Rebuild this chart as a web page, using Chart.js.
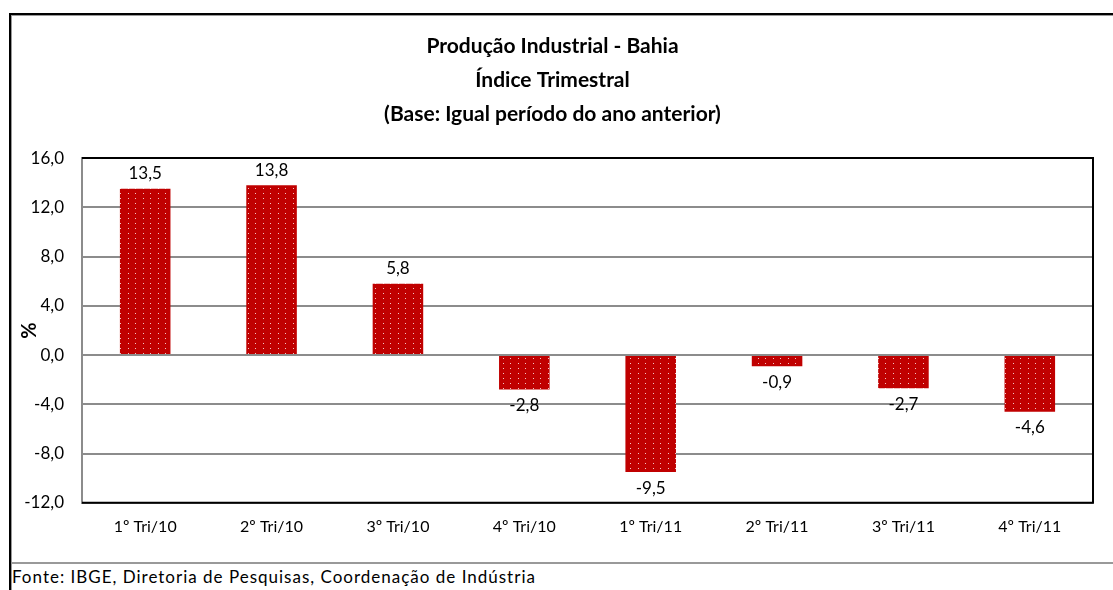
<!DOCTYPE html>
<html>
<head>
<meta charset="utf-8">
<script src="https://cdn.jsdelivr.net/npm/chart.js@4.4.0/dist/chart.umd.min.js"></script>
<style>
  body { margin: 0; background: #fff; width: 1113px; height: 590px; overflow: hidden; position: relative; font-family: Lato, "Open Sans", sans-serif; }
  #frame { position: absolute; left: 9px; top: 13px; width: 1120px; height: 600px; border-top: 2px solid #000; border-left: 2px solid #000; box-shadow: inset 1px 1px 0 #999; }
  #sep { position: absolute; left: 11px; top: 562px; width: 1102px; height: 2px; background: #999; }
  #fonte { position: absolute; left: 12px; top: 566px; font-size: 17px; letter-spacing: 1px; color: #000; white-space: nowrap; }
  #chart { position: absolute; left: 12px; top: 16px; }
</style>
</head>
<body>
<div id="frame"></div>
<div id="sep"></div>
<div id="fonte">Fonte: IBGE, Diretoria de Pesquisas, Coordenação de Indústria</div>
<canvas id="chart" width="1098" height="526"></canvas>
<script>
// dados
const trimestres = ['1º Tri/10', '2º Tri/10', '3º Tri/10', '4º Tri/10', '1º Tri/11', '2º Tri/11', '3º Tri/11', '4º Tri/11'];
const indice = [13.5, 13.8, 5.8, -2.8, -9.5, -0.9, -2.7, -4.6];
const titulo = ['Produção Industrial - Bahia', 'Índice Trimestral', '(Base: Igual período do ano anterior)'];

const fmt = v => v.toFixed(1).replace('.', ',');

// padrão pontilhado das barras
const pc = document.createElement('canvas');
pc.width = 15; pc.height = 5;
const pctx = pc.getContext('2d');
pctx.fillStyle = '#C00000';
pctx.fillRect(0, 0, 15, 5);
pctx.fillStyle = '#f3c6c6';
pctx.fillRect(3, 2, 1, 1);
pctx.fillRect(11, 2, 1, 1);
const ctx = document.getElementById('chart').getContext('2d');
const pattern = ctx.createPattern(pc, 'repeat');

const moldura = {
    id: 'moldura',
    afterDatasetsDraw(chart) {
        const a = chart.chartArea;
        const c = chart.ctx;
        c.save();
        c.strokeStyle = '#000';
        c.lineWidth = 2;
        c.beginPath();
        c.moveTo(a.left, a.top);
        c.lineTo(a.right, a.top);
        c.lineTo(a.right, a.bottom);
        c.lineTo(a.left, a.bottom);
        c.stroke();
        c.restore();
    }
};

const rotulos = {
    id: 'rotulos',
    afterDatasetsDraw(chart) {
        const c = chart.ctx;
        const meta = chart.getDatasetMeta(0);
        c.save();
        c.font = '17px Lato';
        c.fillStyle = '#000';
        c.textAlign = 'center';
        c.textBaseline = 'middle';
        meta.data.forEach((bar, i) => {
            const v = indice[i];
            const y = v >= 0 ? bar.y - 15 : bar.y + 16;
            c.fillText(fmt(v), bar.x, y);
        });
        c.restore();
    }
};

new Chart(ctx, {
    type: 'bar',
    data: {
        labels: trimestres,
        datasets: [{
            data: indice,
            backgroundColor: pattern,
            borderWidth: 0,
            barPercentage: 0.8,
            categoryPercentage: 0.5
        }]
    },
    options: {
        responsive: false,
        animation: false,
        layout: { padding: { left: 0, right: 17, bottom: 0 } },
        plugins: {
            legend: { display: false },
            tooltip: { enabled: false },
            title: {
                display: true,
                text: titulo,
                color: '#000',
                font: { family: 'Lato', size: 21, weight: 'bold', lineHeight: 1.62 },
                padding: { top: 13, bottom: 27 }
            }
        },
        scales: {
            x: {
                grid: { display: false },
                border: { display: false },
                ticks: { color: '#000', font: { family: 'Lato', size: 16 }, padding: 6 }
            },
            y: {
                min: -12,
                max: 16,
                afterFit(scale) { scale.width = 70; },
                ticks: {
                    stepSize: 4,
                    color: '#000',
                    font: { family: 'Lato', size: 17 },
                    padding: 18,
                    callback: v => fmt(v)
                },
                grid: { color: '#8c8c8c', lineWidth: 2, drawTicks: false },
                border: { color: '#8c8c8c', width: 2 },
                title: {
                    display: true,
                    text: '%',
                    color: '#000',
                    font: { family: 'Lato', size: 20, weight: 'bold' },
                    padding: { top: 6, bottom: 0 }
                }
            }
        }
    },
    plugins: [moldura, rotulos]
});
</script>
</body>
</html>
